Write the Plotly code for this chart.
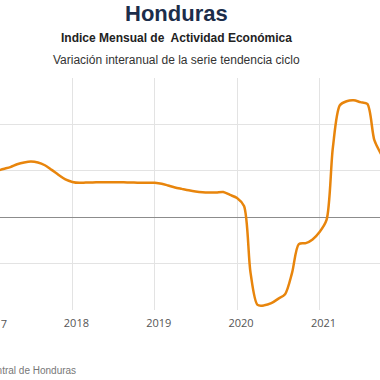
import plotly.graph_objects as go

# Monthly year-on-year variation of the IMAE trend-cycle (%), Jan 2017 - Oct 2021
months = [f"{y}-{m:02d}-01" for y in range(2017, 2022) for m in range(1, 13)][:58]
values = [
    # 2017
    4.8, 5.0, 5.2, 5.4, 5.7, 5.9, 6.0, 5.9, 5.6, 5.1, 4.55, 4.07,
    # 2018
    3.8, 3.7, 3.73, 3.75, 3.76, 3.77, 3.77, 3.76, 3.75, 3.73, 3.72, 3.72,
    # 2019
    3.7, 3.6, 3.42, 3.2, 3.05, 2.9, 2.78, 2.7, 2.67, 2.67, 2.72, 2.4,
    # 2020
    2.07, 1.2, -6.0, -9.45, -9.5, -9.27, -8.8, -8.3, -6.0, -2.9, -2.8, -2.4,
    # 2021
    -1.6, -0.3, 7.5, 12.06, 12.5, 12.6, 12.4, 12.2, 8.3, 6.8,
]

title_text = "Honduras"
subtitle_text = "Indice Mensual de  Actividad Económica"
subsubtitle_text = "Variación interanual de la serie tendencia ciclo"
source_text = "Fuente: Banco Central de Honduras"
hidden_year_label = "2017"

W, H = 380, 380
top, bottom = 78, 310
ph = bottom - top

def py(ypx):
    return (bottom - ypx) / ph

fig = go.Figure()
fig.add_trace(go.Scatter(
    x=months, y=values, mode="lines",
    line=dict(color="#E8850C", width=2.5, shape="spline", smoothing=0.8),
    hoverinfo="skip", showlegend=False,
))

fig.update_layout(
    width=W, height=H,
    margin=dict(l=0, r=0, t=top, b=H - bottom, autoexpand=False),
    paper_bgcolor="white", plot_bgcolor="white",
    font=dict(family="Arial, Liberation Sans, sans-serif"),
    xaxis=dict(
        type="date", range=["2017-02-14", "2021-09-26"],
        dtick="M12", tick0="2018-01-01", tickformat="%Y",
        showgrid=True, gridcolor="#e3e3e3", gridwidth=1,
        zeroline=False, showline=False, ticks="",
        ticklabelshift=4, ticklabelstandoff=5,
        tickfont=dict(size=11, color="#555555", family="Open Sans, sans-serif"),
    ),
    yaxis=dict(
        range=[-10, 15], dtick=5, showgrid=True, gridcolor="#e3e3e3",
        zeroline=True, zerolinecolor="#8c8c8c", zerolinewidth=1,
        showticklabels=False, ticks="",
    ),
    annotations=[
        dict(text=f"<b>{title_text}</b>", xref="paper", yref="paper",
             x=176.5 / W, y=py(14), xanchor="center", yanchor="middle",
             showarrow=False, font=dict(size=22, color="#1c2d4a")),
        dict(text=f"<b>{subtitle_text}</b>", xref="paper", yref="paper",
             x=176.5 / W, y=py(38), xanchor="center", yanchor="middle",
             showarrow=False, font=dict(size=12, color="#222222")),
        dict(text=subsubtitle_text, xref="paper", yref="paper",
             x=176.5 / W, y=py(60), xanchor="center", yanchor="middle",
             showarrow=False, font=dict(size=12, color="#333333")),
        dict(text=hidden_year_label, xref="paper", yref="paper",
             x=-6 / W, y=py(323), xanchor="center", yanchor="middle",
             showarrow=False, font=dict(size=11, color="#555555", family="Open Sans, sans-serif")),
        dict(text=source_text, xref="paper", yref="paper",
             x=78 / W, y=py(370), xanchor="right", yanchor="middle",
             showarrow=False, font=dict(size=10, color="#777777")),
    ],
)

fig.write_html("out.html", post_script="document.body.style.margin='0';",
               config={"displayModeBar": False})
